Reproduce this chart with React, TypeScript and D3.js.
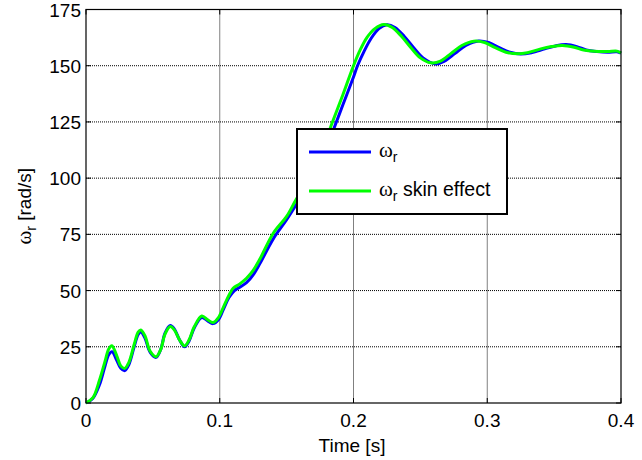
import React from "react";
import * as d3 from "d3";

const xTicks = [0, 0.1, 0.2, 0.3, 0.4];
const xTickLabels = ["0", "0.1", "0.2", "0.3", "0.4"];
const yTicks = [0, 25, 50, 75, 100, 125, 150, 175];

const tBlue = [0, 0.005, 0.010, 0.014, 0.017, 0.0195, 0.023, 0.026, 0.029, 0.032, 0.036, 0.039, 0.041, 0.044, 0.048, 0.0524, 0.056, 0.059, 0.063, 0.066, 0.070, 0.0737, 0.077, 0.081, 0.0866, 0.091, 0.095, 0.099, 0.103, 0.107, 0.111, 0.115, 0.120, 0.125, 0.130, 0.140, 0.150, 0.157, 0.165, 0.175, 0.184, 0.192, 0.200, 0.203, 0.208, 0.213, 0.219, 0.225, 0.231, 0.238, 0.245, 0.252, 0.2614, 0.268, 0.276, 0.284, 0.2936, 0.301, 0.309, 0.317, 0.325, 0.333, 0.343, 0.351, 0.359, 0.367, 0.374, 0.382, 0.390, 0.397, 0.400];
const wBlue = [0, 2, 8, 16, 21.5, 22.8, 19, 15.5, 14.4, 17, 25, 30.5, 31.6, 29, 22.5, 20.3, 24, 31, 34.5, 33, 28, 25, 27.5, 33.5, 38, 36.5, 35.3, 37, 42, 47, 50, 51.5, 53.5, 57, 62, 73, 81.5, 88, 95.5, 106.5, 120, 132.5, 145, 150, 156.5, 162, 166.5, 168.2, 167, 163, 158, 153.5, 150.8, 152, 155.5, 159, 161, 160.3, 158, 156, 155.2, 155.8, 157.5, 158.8, 159.4, 158.5, 157, 156.3, 156, 156.2, 155.6];

const tGreen = [0, 0.0052, 0.010, 0.014, 0.017, 0.0193, 0.023, 0.026, 0.029, 0.032, 0.036, 0.039, 0.041, 0.044, 0.048, 0.0524, 0.056, 0.059, 0.063, 0.066, 0.070, 0.0737, 0.077, 0.081, 0.0866, 0.091, 0.095, 0.099, 0.103, 0.107, 0.110, 0.115, 0.120, 0.125, 0.130, 0.140, 0.150, 0.157, 0.165, 0.175, 0.184, 0.192, 0.200, 0.205, 0.210, 0.216, 0.2227, 0.229, 0.236, 0.243, 0.250, 0.2577, 0.265, 0.273, 0.281, 0.290, 0.298, 0.306, 0.314, 0.3226, 0.330, 0.340, 0.348, 0.3563, 0.365, 0.372, 0.380, 0.390, 0.397, 0.400];
const wGreen = [0, 2.4, 10, 18, 24, 25.5, 21, 16.5, 15.4, 18, 26, 31.5, 32.5, 30, 23, 20.6, 24, 30.5, 34, 32.5, 28, 25.4, 28, 34, 38.7, 37, 35.8, 38, 43, 48, 51, 53, 55.5, 59, 64, 75.5, 83, 90.4, 98, 110, 124.5, 137, 150, 157, 162.5, 166.5, 168.3, 167, 163, 158, 153.5, 151.3, 152, 155.5, 159, 160.9, 160.3, 158, 156, 155.3, 155.8, 157.5, 158.5, 159, 158.2, 157, 156.4, 156.3, 156.5, 155.7];

const W = 642, H = 460;
const L = 86, R = 621, T = 9.5, B = 403;
const FONT = "'Liberation Sans', Arial, sans-serif";

export default function App() {
  const x = d3.scaleLinear().domain([0, 0.4]).range([L, R]);
  const y = d3.scaleLinear().domain([0, 175]).range([B, T]);
  const line = d3
    .line<[number, number]>()
    .x((d) => x(d[0]))
    .y((d) => y(d[1]))
    .curve(d3.curveCatmullRom.alpha(0.5));
  const blue = tBlue.map((t, i) => [t, wBlue[i]] as [number, number]);
  const green = tGreen.map((t, i) => [t, wGreen[i]] as [number, number]);

  return (
    <svg width={W} height={H} style={{ position: "absolute", left: 0, top: 0, background: "#fff" }}>
      <rect x={0} y={0} width={W} height={H} fill="#fff" />
      {xTicks.slice(1, -1).map((t) => (
        <line key={"gx" + t} x1={x(t)} x2={x(t)} y1={T} y2={B} stroke="#000" strokeWidth={1} strokeDasharray="1,1" />
      ))}
      {yTicks.slice(1, -1).map((v) => (
        <line key={"gy" + v} x1={L} x2={R} y1={y(v)} y2={y(v)} stroke="#000" strokeWidth={1} strokeDasharray="1,1" />
      ))}
      {xTicks.map((t) => (
        <g key={"tx" + t}>
          <line x1={x(t)} x2={x(t)} y1={B} y2={B - 5} stroke="#000" />
          <line x1={x(t)} x2={x(t)} y1={T} y2={T + 5} stroke="#000" />
        </g>
      ))}
      {yTicks.map((v) => (
        <g key={"ty" + v}>
          <line x1={L} x2={L + 5} y1={y(v)} y2={y(v)} stroke="#000" />
          <line x1={R} x2={R - 5} y1={y(v)} y2={y(v)} stroke="#000" />
        </g>
      ))}
      <path d={line(blue) || ""} fill="none" stroke="#0000ff" strokeWidth={3} />
      <path d={line(green) || ""} fill="none" stroke="#00ff00" strokeWidth={3} />
      <rect x={L} y={T} width={R - L} height={B - T} fill="none" stroke="#000" strokeWidth={1.2} />
      {xTicks.map((t, i) => (
        <text key={"lx" + t} x={x(t)} y={426.5} textAnchor="middle" fontFamily={FONT} fontSize={19} fill="#000">
          {xTickLabels[i]}
        </text>
      ))}
      {yTicks.map((v) => (
        <text key={"ly" + v} x={81} y={y(v) + 7} textAnchor="end" fontFamily={FONT} fontSize={19} fill="#000">
          {v}
        </text>
      ))}
      <text x={352} y={452} textAnchor="middle" fontFamily={FONT} fontSize={19} fill="#000">
        Time [s]
      </text>
      <text transform={`translate(31,${(T + B) / 2}) rotate(-90)`} textAnchor="middle" fontFamily={FONT} fontSize={19} fill="#000">
        <tspan fontFamily="'Liberation Serif', serif" fontSize={21}>ω</tspan>
        <tspan fontSize={14} dy={5}>r</tspan>
        <tspan dy={-5}> [rad/s]</tspan>
      </text>
      <rect x={297} y={129} width={210} height={85} fill="#fff" stroke="#000" strokeWidth={2} />
      <line x1={309} x2={371} y1={152} y2={152} stroke="#0000ff" strokeWidth={3} />
      <line x1={309} x2={371} y1={191} y2={191} stroke="#00ff00" strokeWidth={3} />
      <text x={379} y={157} fontFamily={FONT} fontSize={19.5} fill="#000">
        <tspan fontFamily="'Liberation Serif', serif" fontSize={21}>ω</tspan>
        <tspan fontSize={14} dy={5}>r</tspan>
      </text>
      <text x={379} y={196} fontFamily={FONT} fontSize={19.5} fill="#000">
        <tspan fontFamily="'Liberation Serif', serif" fontSize={21}>ω</tspan>
        <tspan fontSize={14} dy={5}>r</tspan>
        <tspan dy={-5}> skin effect</tspan>
      </text>
    </svg>
  );
}
